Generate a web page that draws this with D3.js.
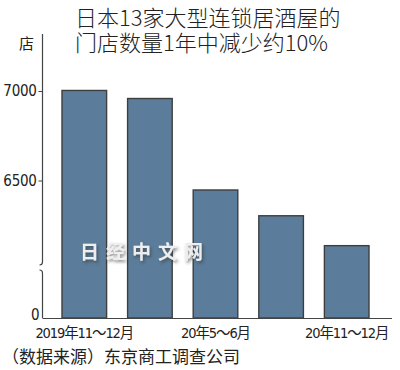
<!DOCTYPE html>
<html><head><meta charset="utf-8">
<script src="https://cdn.jsdelivr.net/npm/d3@7"></script>
<style>
html,body{margin:0;padding:0;background:#fff;}
svg{display:block;}
</style></head>
<body>
<script>
const titleLines = ["日本13家大型连锁居酒屋的", "门店数量1年中减少约10%"];
const unitLabel = "店";
const sourceText = "（数据来源）东京商工调查公司";
const watermark = "日经中文网";
const categories = ["2019年11～12月", "20年2～3月", "20年5～6月", "20年8～9月", "20年11～12月"];
const shownLabels = ["2019年11～12月", "20年5～6月", "20年11～12月"];
const values = [7003, 6958, 6447, 6303, 6136];
const tickValues = [6500, 7000];
const tickLabels = ["6500", "7000"];

const W = 400, H = 370;
const numFont = "'Liberation Sans Narrow','DejaVu Sans Condensed','Noto Sans CJK SC',sans-serif";
const cjkFont = "'Noto Sans CJK SC','Noto Sans',sans-serif";

const svg = d3.select("body").append("svg").attr("width", W).attr("height", H);

// broken y scale: 0 at baseline, 6000 at the break, 7000 near top
const y = d3.scaleLinear().domain([0, 6000, 7000]).range([318, 270, 91]);
const x = d3.scaleBand().domain(categories).range([41, 390]).paddingInner(0.32).paddingOuter(0.32);

// title
const tt = svg.append("text").attr("font-family", cjkFont).attr("font-weight", 300)
  .attr("font-size", 22).attr("fill", "#222");
tt.selectAll("tspan").data(titleLines).join("tspan")
  .attr("x", 75).attr("y", (d, i) => 26 + i * 25).text(d => d);

// unit
svg.append("text").attr("x", 34).attr("y", 49).attr("text-anchor", "end")
  .attr("font-family", cjkFont).attr("font-size", 15).attr("fill", "#222").text(unitLabel);

// bars
const fill = "#5b7d9b";
svg.append("g").selectAll("rect").data(values).join("rect")
  .attr("x", (d, i) => x(categories[i]))
  .attr("y", d => y(d))
  .attr("width", x.bandwidth())
  .attr("height", d => y(0) - y(d))
  .attr("fill", fill).attr("stroke", "#3e3e3e").attr("stroke-width", 1.4);

// y axis ticks (left)
const ax = d3.axisLeft(y).tickValues(tickValues).tickSize(4).tickPadding(2)
  .tickFormat((d, i) => tickLabels[i]);
const gy = svg.append("g").attr("transform", "translate(42.5,0)").call(ax);
gy.select(".domain").remove();
gy.selectAll(".tick line").attr("stroke", "#444").attr("stroke-width", 1);
gy.selectAll(".tick text").attr("font-family", numFont).attr("font-size", 15).attr("fill", "#222")
  .attr("letter-spacing", -0.3);

// broken axis line
const axX = 42.5;
const breakTop = 262, breakBot = 273;
svg.append("path")
  .attr("d", `M${axX},34 L${axX},${breakTop} Q${axX},${breakTop + 3} ${axX - 3},${breakTop + 3}`)
  .attr("fill", "none").attr("stroke", "#444").attr("stroke-width", 1.2);
svg.append("path")
  .attr("d", `M${axX - 3},${breakBot - 3} Q${axX},${breakBot - 3} ${axX},${breakBot} L${axX},${y(0)}`)
  .attr("fill", "none").attr("stroke", "#444").attr("stroke-width", 1.2);

// zero label
svg.append("text").attr("x", 39.5).attr("y", y(0) + 2).attr("text-anchor", "end")
  .attr("font-family", numFont).attr("font-size", 15).attr("fill", "#222").text("0");

// x axis
const gx = svg.append("g").attr("transform", `translate(0,${y(0)})`)
  .call(d3.axisBottom(x).tickSize(0).tickPadding(6)
    .tickFormat(d => shownLabels.includes(d) ? d : ""));
gx.select(".domain").attr("d", `M${axX},0.5H392`).attr("stroke", "#444").attr("stroke-width", 1.2);
gx.selectAll(".tick text").attr("font-family", numFont).attr("font-size", 14.5).attr("fill", "#222")
  .attr("letter-spacing", -1.1).attr("dy", "0.95em");

// watermark
const defs = svg.append("defs");
const f = defs.append("filter").attr("id", "sh").attr("x", "-20%").attr("y", "-50%").attr("width", "140%").attr("height", "200%");
f.append("feDropShadow").attr("dx", 1.5).attr("dy", 2).attr("stdDeviation", 1.5).attr("flood-color", "#333").attr("flood-opacity", 0.6);
svg.append("text").attr("x", 80).attr("y", 259)
  .attr("font-family", cjkFont).attr("font-weight", 700).attr("font-size", 19)
  .attr("letter-spacing", 7).attr("fill", "#eeeeee").attr("filter", "url(#sh)")
  .text(watermark);

// source
svg.append("text").attr("x", 2).attr("y", 363)
  .attr("font-family", cjkFont).attr("font-size", 17).attr("fill", "#222").text(sourceText);
</script>
</body></html>
